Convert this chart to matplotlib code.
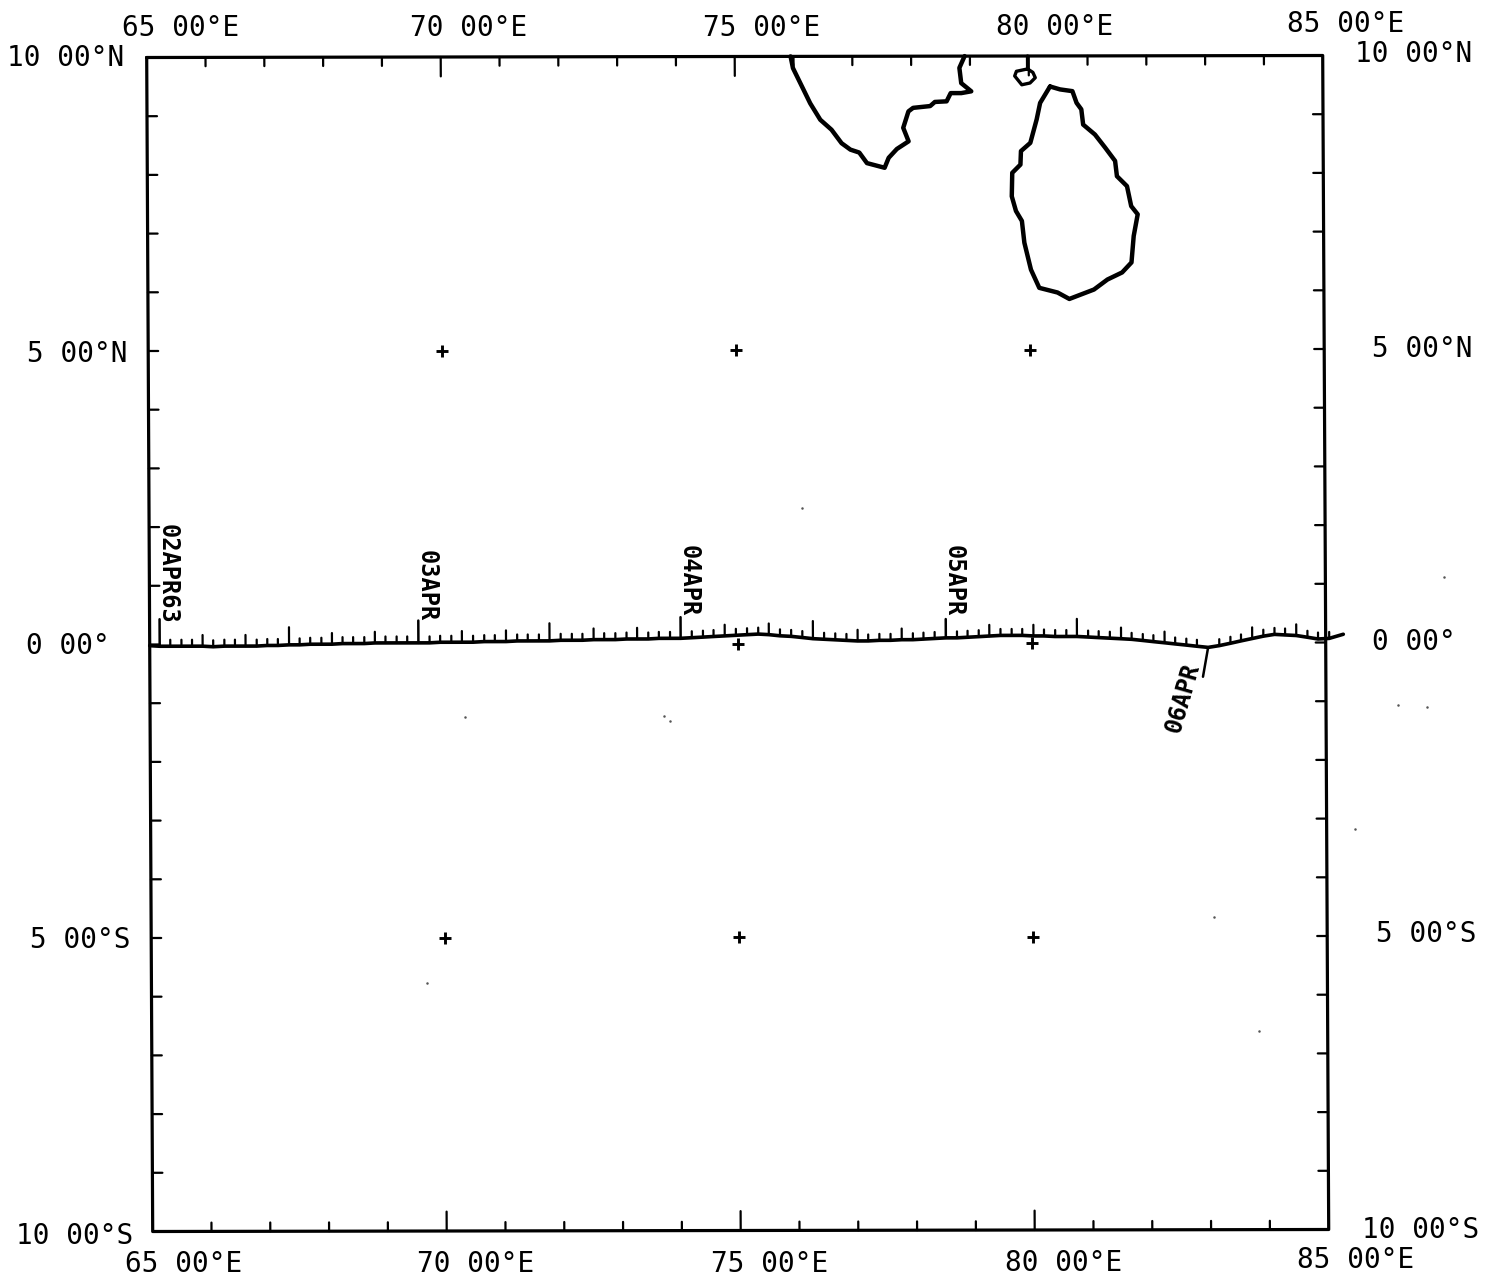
import numpy as np
import matplotlib
matplotlib.use("Agg")
import matplotlib.pyplot as plt
from matplotlib.transforms import Affine2D

# Track, hourly fixes (lon, lat in degrees)
lon_day1 = [65.17, 65.35, 65.54, 65.72, 65.90, 66.08, 66.27, 66.45, 66.63, 66.82, 67.00, 67.18, 67.37,
            67.55, 67.73, 67.92, 68.10, 68.28, 68.46, 68.65, 68.83, 69.01, 69.20, 69.38, 69.57]
lat_day1 = [-0.03, -0.03, -0.03, -0.03, -0.03, -0.04, -0.03, -0.03, -0.03, -0.03, -0.02, -0.02, -0.01,
            -0.01, 0.00, 0.00, 0.00, 0.01, 0.01, 0.01, 0.02, 0.02, 0.02, 0.02, 0.02]
lon_day2 = [69.76, 69.94, 70.13, 70.31, 70.50, 70.69, 70.87, 71.06, 71.25, 71.43, 71.62, 71.80,
            71.99, 72.18, 72.36, 72.55, 72.73, 72.92, 73.11, 73.29, 73.48, 73.66, 73.85, 74.03]
lat_day2 = [0.02, 0.03, 0.03, 0.03, 0.03, 0.04, 0.04, 0.04, 0.05, 0.05, 0.05, 0.05,
            0.06, 0.06, 0.06, 0.07, 0.07, 0.07, 0.08, 0.08, 0.08, 0.09, 0.09, 0.09]
lon_day3 = [74.22, 74.41, 74.59, 74.78, 74.97, 75.16, 75.35, 75.53, 75.72, 75.91, 76.10, 76.28,
            76.47, 76.66, 76.85, 77.04, 77.22, 77.41, 77.60, 77.79, 77.98, 78.16, 78.35, 78.54]
lat_day3 = [0.10, 0.11, 0.12, 0.13, 0.14, 0.15, 0.16, 0.15, 0.13, 0.12, 0.10, 0.08,
            0.07, 0.06, 0.05, 0.04, 0.04, 0.05, 0.05, 0.06, 0.06, 0.07, 0.08, 0.09]
lon_day4 = [78.73, 78.91, 79.10, 79.28, 79.47, 79.66, 79.84, 80.03, 80.21, 80.40, 80.59, 80.77,
            80.96, 81.14, 81.33, 81.52, 81.70, 81.89, 82.07, 82.26, 82.44, 82.63, 82.81, 83.00]
lat_day4 = [0.09, 0.10, 0.11, 0.12, 0.13, 0.13, 0.13, 0.12, 0.12, 0.11, 0.11, 0.11,
            0.10, 0.09, 0.08, 0.07, 0.06, 0.04, 0.02, 0.00, -0.02, -0.04, -0.06, -0.08]
lon_end = [83.19, 83.38, 83.56, 83.75, 83.94, 84.13, 84.31, 84.50, 84.69, 84.87, 85.06, 85.30]
lat_end = [-0.05, -0.01, 0.03, 0.07, 0.11, 0.14, 0.13, 0.12, 0.09, 0.06, 0.07, 0.14]

# Coastlines
india_lon = [75.95, 75.99, 76.14, 76.28, 76.45, 76.64, 76.81, 76.96, 77.11, 77.24, 77.54, 77.61, 77.75,
             77.95, 77.86, 77.95, 78.03, 78.32, 78.40, 78.60, 78.67, 78.85, 79.02, 78.85, 78.82, 78.91]
india_lat = [10.00, 9.80, 9.49, 9.20, 8.92, 8.75, 8.52, 8.41, 8.36, 8.18, 8.10, 8.27, 8.42,
             8.55, 8.78, 9.06, 9.12, 9.15, 9.22, 9.23, 9.37, 9.37, 9.40, 9.54, 9.80, 10.00]
islet_lon = [79.98, 79.98, 79.79, 79.76, 79.88, 80.02, 80.11, 80.07, 79.98]
islet_lat = [10.00, 9.78, 9.74, 9.66, 9.51, 9.54, 9.63, 9.72, 9.78]
lanka_lon = [80.36, 80.53, 80.74, 80.81, 80.89, 80.92, 81.12, 81.29, 81.46, 81.49, 81.66, 81.73, 81.84,
             81.77, 81.73, 81.57, 81.32, 81.09, 80.67, 80.47, 80.16, 80.02, 79.91, 79.87, 79.77, 79.70,
             79.71, 79.85, 79.86, 80.02, 80.13, 80.19, 80.36]
lanka_lat = [9.48, 9.43, 9.40, 9.20, 9.09, 8.83, 8.66, 8.44, 8.21, 7.95, 7.78, 7.44, 7.30,
             6.93, 6.48, 6.31, 6.19, 6.02, 5.86, 5.97, 6.05, 6.36, 6.82, 7.19, 7.36, 7.61,
             8.01, 8.15, 8.38, 8.52, 8.92, 9.20, 9.48]

# Grid crosses
cross_lon = [70, 75, 80, 70, 75, 80, 75, 80]
cross_lat = [5, 5, 5, -5, -5, -5, 0, 0]

# Scanner dust
speck_lon = [73.74, 73.84, 70.36, 69.68, 83.83, 83.08, 85.49, 86.22, 86.71, 76.11, 87.02]
speck_lat = [-1.24, -1.32, -1.25, -5.77, -6.62, -4.68, -3.18, -1.06, -1.10, 2.31, 1.12]

# Labels
lon_ticks = [65, 70, 75, 80, 85]
lat_ticks = [10, 5, 0, -5, -10]
lon_labels = ["65 00°E", "70 00°E", "75 00°E", "80 00°E", "85 00°E"]
lat_labels = ["10 00°N", "5 00°N", "0 00°", "5 00°S", "10 00°S"]
day_labels = ["02APR63", "03APR", "04APR", "05APR", "06APR"]

track_lon = np.array(lon_day1 + lon_day2 + lon_day3 + lon_day4 + lon_end)
track_lat = np.array(lat_day1 + lat_day2 + lat_day3 + lat_day4 + lat_end)

fig = plt.figure(figsize=(14.99, 12.83), dpi=100)
ax = fig.add_axes([0, 0, 1, 1])
ax.set_xlim(0, 1499)
ax.set_ylim(1283, 0)
ax.axis("off")

# the scanned sheet is slightly skewed, so lon/lat go through an affine first
geo = Affine2D.from_values(58.8, -0.1, -0.3, -58.7, 737.7 - 58.8*75, 643.5 + 0.1*75) + ax.transData

def line(xs, ys, lw=2.0):
    ax.plot(xs, ys, color="black", lw=lw, transform=geo, clip_on=False,
            solid_capstyle="round", solid_joinstyle="round")

# Frame
line([65, 85, 85, 65, 65], [10, 10, -10, -10, 10], lw=2.3)

# Frame ticks, one per degree
for v in range(66, 85):
    n = 0.33 if v % 5 == 0 else 0.15
    line([v, v], [10, 10 - n], lw=1.6)
    line([v, v], [-10, -10 + n], lw=1.6)
for v in range(-9, 10):
    line([65, 65.17], [v, v], lw=1.6)
    line([85, 84.83], [v, v], lw=1.6)

# Coast
line(india_lon, india_lat, lw=3.2)
line(islet_lon, islet_lat, lw=2.4)
line(lanka_lon, lanka_lat, lw=3.2)

# Grid crosses and dust
ax.plot(cross_lon, cross_lat, "+", color="black", ms=9, mew=2.1, transform=geo, clip_on=False)
ax.plot(speck_lon, speck_lat, ".", color="#555555", ms=1.6, transform=geo, clip_on=False)

# Track with hourly ticks, taller every 4 h and 12 h
line(np.r_[65.0, track_lon], np.r_[-0.02, track_lat], lw=2.6)
for i in range(len(track_lon) - 1):
    if i % 24 == 0:
        continue
    n = 0.30 if i % 12 == 0 else (0.19 if i % 4 == 0 else 0.11)
    line([track_lon[i], track_lon[i]], [track_lat[i], track_lat[i] + n], lw=1.6)

# Day stems and labels
stem_len = [0.46, 0.38, 0.36, 0.32]
text_kw = dict(family="DejaVu Sans Mono", color="black", xycoords=geo, textcoords="offset pixels")
for k, name in enumerate(day_labels[:4]):
    i = k*24
    line([track_lon[i], track_lon[i]], [track_lat[i], track_lat[i] + stem_len[k]], lw=1.8)
    ax.annotate(name, (track_lon[i], track_lat[i]), xytext=(8, 22), rotation=-90,
                ha="center", va="bottom", fontsize=17, fontweight="bold", **text_kw)
line([track_lon[96], track_lon[96] - 0.09], [track_lat[96], track_lat[96] - 0.5], lw=1.8)
ax.annotate(day_labels[4], (track_lon[96], track_lat[96]), xytext=(-25, -50), rotation=74,
            rotation_mode="anchor", ha="center", va="center", fontsize=17, fontweight="bold", **text_kw)

# Border labels, each hand lettered so offsets differ a little
top_dx = [34, 28, 27, 26, 23]
top_dy = [29, 29, 29, 29, 32]
bot_dx = [31, 29, 29, 29, 27]
bot_dy = [-33, -33, -33, -33, -31]
left_dx = [-22, -21, -40, -21, -19]
left_dy = [0, -3, -1, -2, -4]
right_dx = [32, 48, 46, 49, 33]
right_dy = [1, 0, 1, 2, 0]
for j, v in enumerate(lon_ticks):
    ax.annotate(lon_labels[j], (v, 10), xytext=(top_dx[j], top_dy[j]), ha="center", va="center",
                fontsize=20, **text_kw)
    ax.annotate(lon_labels[j], (v, -10), xytext=(bot_dx[j], bot_dy[j]), ha="center", va="center",
                fontsize=20, **text_kw)
for j, v in enumerate(lat_ticks):
    ax.annotate(lat_labels[j], (65, v), xytext=(left_dx[j], left_dy[j]), ha="right", va="center",
                fontsize=20, **text_kw)
    ax.annotate(lat_labels[j], (85, v), xytext=(right_dx[j], right_dy[j]), ha="left", va="center",
                fontsize=20, **text_kw)

fig.savefig("out.png", dpi=100, facecolor="white")
